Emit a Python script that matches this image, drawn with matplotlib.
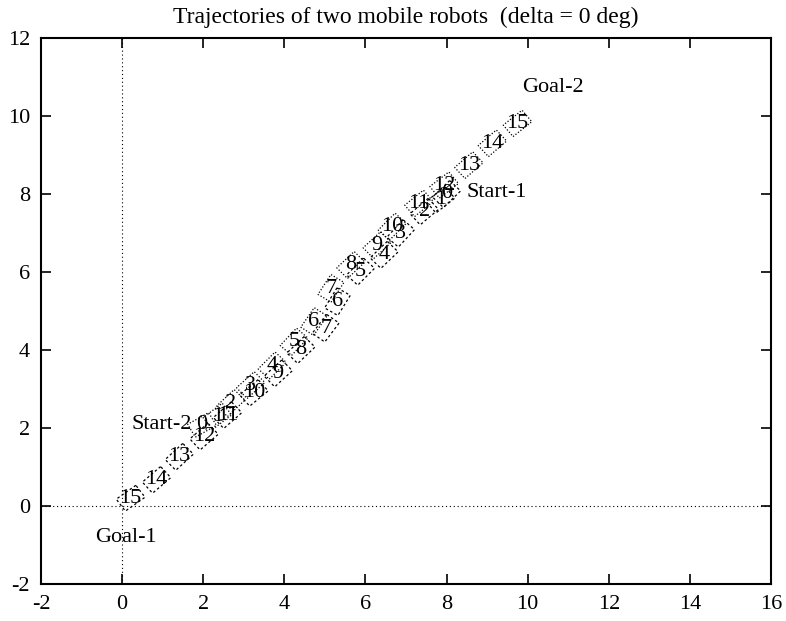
import numpy as np
import matplotlib.pyplot as plt
from matplotlib.patches import Polygon

plt.rcParams['font.family'] = ['Liberation Serif', 'DejaVu Serif']
plt.rcParams['axes.unicode_minus'] = False

# robot 1: Start-1 (8,8) -> Goal-1 (0,0), steps 0..15
r1_x = [8.00, 7.85, 7.45, 6.87, 6.46, 5.88, 5.31, 5.02, 4.41, 3.85, 3.25, 2.60, 2.02, 1.41, 0.85, 0.21]
r1_y = [8.00, 7.85, 7.55, 6.99, 6.44, 6.01, 5.24, 4.56, 4.00, 3.40, 2.90, 2.33, 1.78, 1.26, 0.67, 0.20]

# robot 2: Start-2 (2,2) -> Goal-2 (10,10), steps 0..15
r2_x = [1.97, 2.35, 2.68, 3.17, 3.70, 4.24, 4.73, 5.15, 5.64, 6.29, 6.66, 7.32, 7.94, 8.55, 9.13, 9.75]
r2_y = [2.08, 2.30, 2.64, 3.10, 3.60, 4.21, 4.73, 5.58, 6.18, 6.69, 7.16, 7.76, 8.23, 8.74, 9.30, 9.81]

steps = list(range(16))

notes = [("Start-1", 8.48, 8.03, 'left'), ("Goal-1", 0.1, -0.8, 'center'),
         ("Start-2", 1.72, 2.08, 'right'), ("Goal-2", 9.86, 10.72, 'left')]

BOX_L, BOX_W = 0.6, 0.38


def robot_box(ax, x, y, ang, ls):
    c, s = np.cos(ang), np.sin(ang)
    pts = []
    for dl, dw in [(-1, -1), (1, -1), (1, 1), (-1, 1)]:
        px = x + dl * BOX_L / 2 * c - dw * BOX_W / 2 * s
        py = y + dl * BOX_L / 2 * s + dw * BOX_W / 2 * c
        pts.append((px, py))
    ax.add_patch(Polygon(pts, closed=True, fill=False, lw=0.9, ls=ls, ec='black'))


def draw_robot(ax, xs, ys, ls):
    xs, ys = np.array(xs), np.array(ys)
    for i in range(len(xs)):
        j0, j1 = max(i - 1, 0), min(i + 1, len(xs) - 1)
        ang = np.arctan2(ys[j1] - ys[j0], xs[j1] - xs[j0])
        robot_box(ax, xs[i], ys[i], ang, ls)
        ax.text(xs[i], ys[i], str(steps[i]), ha='center', va='center', fontsize=16)


fig = plt.figure(figsize=(7.86, 6.21), dpi=100)
ax = fig.add_axes([41 / 786, 37 / 621, 730 / 786, 546 / 621])

ax.axhline(0, color='black', ls=(0, (1, 2.5)), lw=0.8)
ax.axvline(0, color='black', ls=(0, (1, 2.5)), lw=0.8)

draw_robot(ax, r1_x, r1_y, (0, (2, 2)))
draw_robot(ax, r2_x, r2_y, (0, (1, 1.5)))

for t, x, y, ha in notes:
    ax.text(x, y, t, ha=ha, va='center', fontsize=16)

ax.set_xlim(-2, 16)
ax.set_ylim(-2, 12)
ax.set_xticks(range(-2, 17, 2))
ax.set_yticks(range(-2, 13, 2))
ax.tick_params(direction='in', length=7, width=1.2, top=True, right=True,
               labelsize=16, pad=8)
for sp in ax.spines.values():
    sp.set_linewidth(1.5)

ax.set_title("Trajectories of two mobile robots  (delta = 0 deg)", fontsize=17, pad=11)

fig.savefig("out.png", dpi=100)
